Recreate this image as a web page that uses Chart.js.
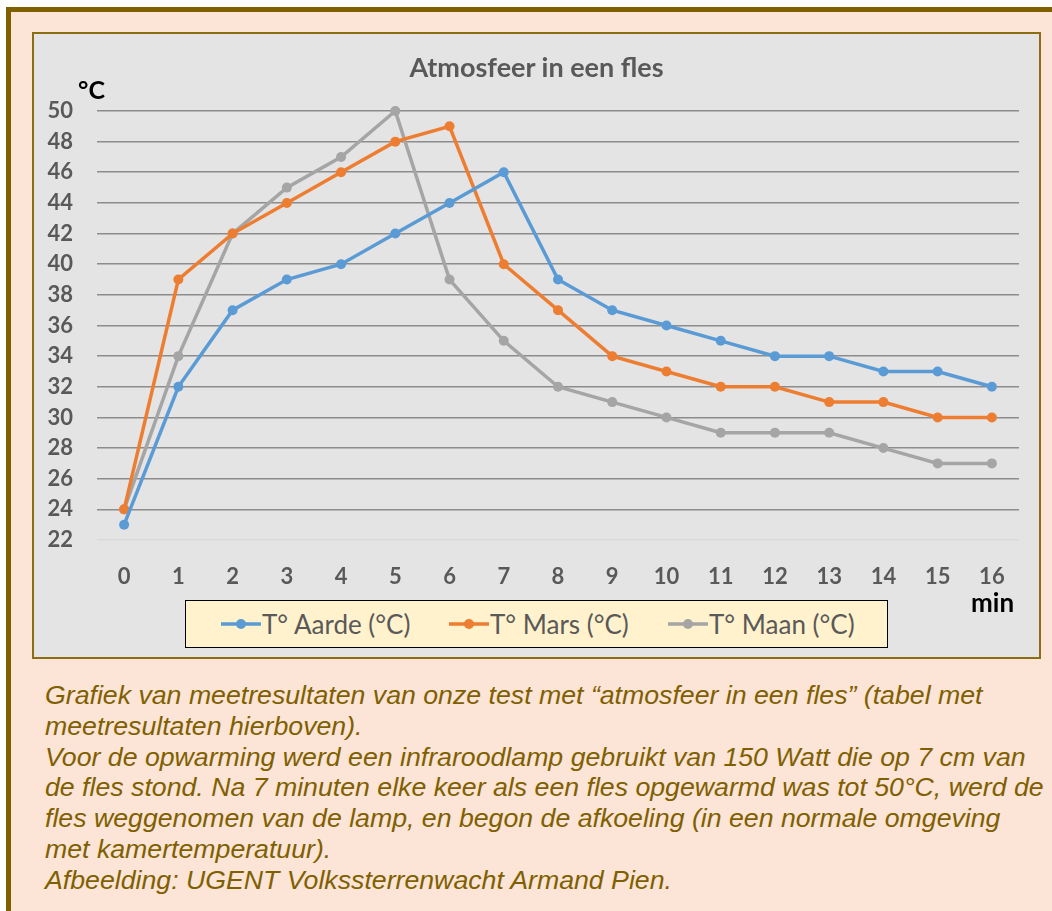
<!DOCTYPE html>
<html>
<head>
<meta charset="utf-8">
<script src="https://cdn.jsdelivr.net/npm/chart.js@4/dist/chart.umd.min.js"></script>
<style>
  html, body { margin: 0; padding: 0; background: #ffffff; width: 1052px; height: 911px; overflow: hidden; }
  #frame { position: absolute; left: 6px; top: 7px; right: -20px; bottom: -20px;
           border-top: 5px solid #7f6000; border-left: 5px solid #7f6000; background: #fce4d6; }
  #panel { position: absolute; left: 32px; top: 32px; width: 1005px; height: 623px;
           border: 2px solid #8c6d14; background: #e4e4e4; }
  #chart { position: absolute; left: 0; top: 0; width: 1052px; height: 670px; }
  .lbl { position: absolute; font-family: Lato, "Open Sans", sans-serif; font-weight: bold; white-space: nowrap; }
  #title { left: 0; width: 1073px; top: 52px; text-align: center; font-size: 27px; color: #595959; line-height: 30px; }
  #yunit { left: 78px; top: 74px; font-size: 25px; color: #000; line-height: 30px; }
  #xunit { left: 971px; top: 587px; font-size: 26px; color: #000; line-height: 30px; }
  #legend { position: absolute; left: 185px; top: 600px; width: 701px; height: 46px;
            border: 1px solid #000; background: #fff2cc; }
  .item { position: absolute; top: 0; height: 46px; display: flex; align-items: center;
          font-family: Lato, "Open Sans", sans-serif; font-size: 26px; color: #595959; white-space: nowrap; }
  .item canvas { margin-right: 1px; }
  #caption { position: absolute; left: 45px; top: 680px; font-family: "Liberation Sans", Arial, sans-serif;
             font-style: italic; font-size: 26.7px; line-height: 30.8px; color: #7f6000; white-space: nowrap; }
</style>
</head>
<body>
<div id="frame"></div>
<div id="panel"></div>
<canvas id="chart" width="1052" height="670"></canvas>
<div class="lbl" id="title">Atmosfeer in een fles</div>
<div class="lbl" id="yunit">°C</div>
<div class="lbl" id="xunit">min</div>
<div id="legend"></div>
<div id="caption">Grafiek van meetresultaten van onze test met “atmosfeer in een fles” (tabel met<br>meetresultaten hierboven).<br>Voor de opwarming werd een infraroodlamp gebruikt van 150 Watt die op 7 cm van<br>de fles stond. Na 7 minuten elke keer als een fles opgewarmd was tot 50°C, werd de<br>fles weggenomen van de lamp, en begon de afkoeling (in een normale omgeving<br>met kamertemperatuur).<br>Afbeelding: UGENT Volkssterrenwacht Armand Pien.</div>
<script>
// Minutes since start
const minutes = ['0','1','2','3','4','5','6','7','8','9','10','11','12','13','14','15','16'];
// Temperatures in °C
const aarde = [23, 32, 37, 39, 40, 42, 44, 46, 39, 37, 36, 35, 34, 34, 33, 33, 32];
const mars  = [24, 39, 42, 44, 46, 48, 49, 40, 37, 34, 33, 32, 32, 31, 31, 30, 30];
const maan  = [24, 34, 42, 45, 47, 50, 39, 35, 32, 31, 30, 29, 29, 29, 28, 27, 27];
const seriesNames = ['T° Aarde (°C)', 'T° Mars (°C)', 'T° Maan (°C)'];
const seriesColors = ['#5b9bd5', '#ed7d31', '#a5a5a5'];
const yMin = 22, yMax = 50, yStep = 2;

const font = 'Lato, "Open Sans", sans-serif';

function ds(label, data, color) {
  return {
    label, data,
    borderColor: color, backgroundColor: color,
    borderWidth: 3.5, pointRadius: 5, pointHoverRadius: 5,
    pointBorderWidth: 0, tension: 0, clip: false
  };
}

new Chart(document.getElementById('chart'), {
  type: 'line',
  data: {
    labels: minutes,
    datasets: [
      ds(seriesNames[0], aarde, seriesColors[0]),
      ds(seriesNames[1], mars, seriesColors[1]),
      ds(seriesNames[2], maan, seriesColors[2])
    ]
  },
  options: {
    responsive: false,
    animation: false,
    events: [],
    layout: { padding: { top: 111, left: 0, right: 33, bottom: 70 } },
    plugins: { legend: { display: false }, title: { display: false }, tooltip: { enabled: false } },
    scales: {
      x: {
        offset: true,
        grid: { display: false },
        border: { display: false },
        ticks: { color: '#595959', font: { family: font, size: 22, weight: 'bold' }, padding: 16, maxRotation: 0 },
        afterFit(s) { s.height = 60; }
      },
      y: {
        min: yMin, max: yMax,
        border: { display: false },
        grid: {
          drawTicks: false,
          color: c => (c.tick && c.tick.value === yMin) ? '#d9d9d9' : '#8c8c8c',
          lineWidth: 1.6
        },
        ticks: { stepSize: yStep, color: '#595959', font: { family: font, size: 22, weight: 'bold' }, padding: 24 },
        afterFit(s) { s.width = 97; }
      }
    }
  }
});

// Legend entries built from the series names and colours
const legendLefts = [221, 449, 668];
const legend = document.getElementById('legend');
seriesNames.forEach((name, i) => {
  const item = document.createElement('div');
  item.className = 'item';
  item.style.left = (legendLefts[i] - 186) + 'px';
  const c = document.createElement('canvas');
  c.width = 40; c.height = 14;
  const g = c.getContext('2d');
  g.strokeStyle = seriesColors[i]; g.fillStyle = seriesColors[i];
  g.lineWidth = 3.5; g.beginPath(); g.moveTo(0, 7); g.lineTo(40, 7); g.stroke();
  g.beginPath(); g.arc(20, 7, 5, 0, Math.PI * 2); g.fill();
  item.appendChild(c);
  const t = document.createElement('span');
  t.textContent = name;
  item.appendChild(t);
  legend.appendChild(item);
});
</script>
</body>
</html>
